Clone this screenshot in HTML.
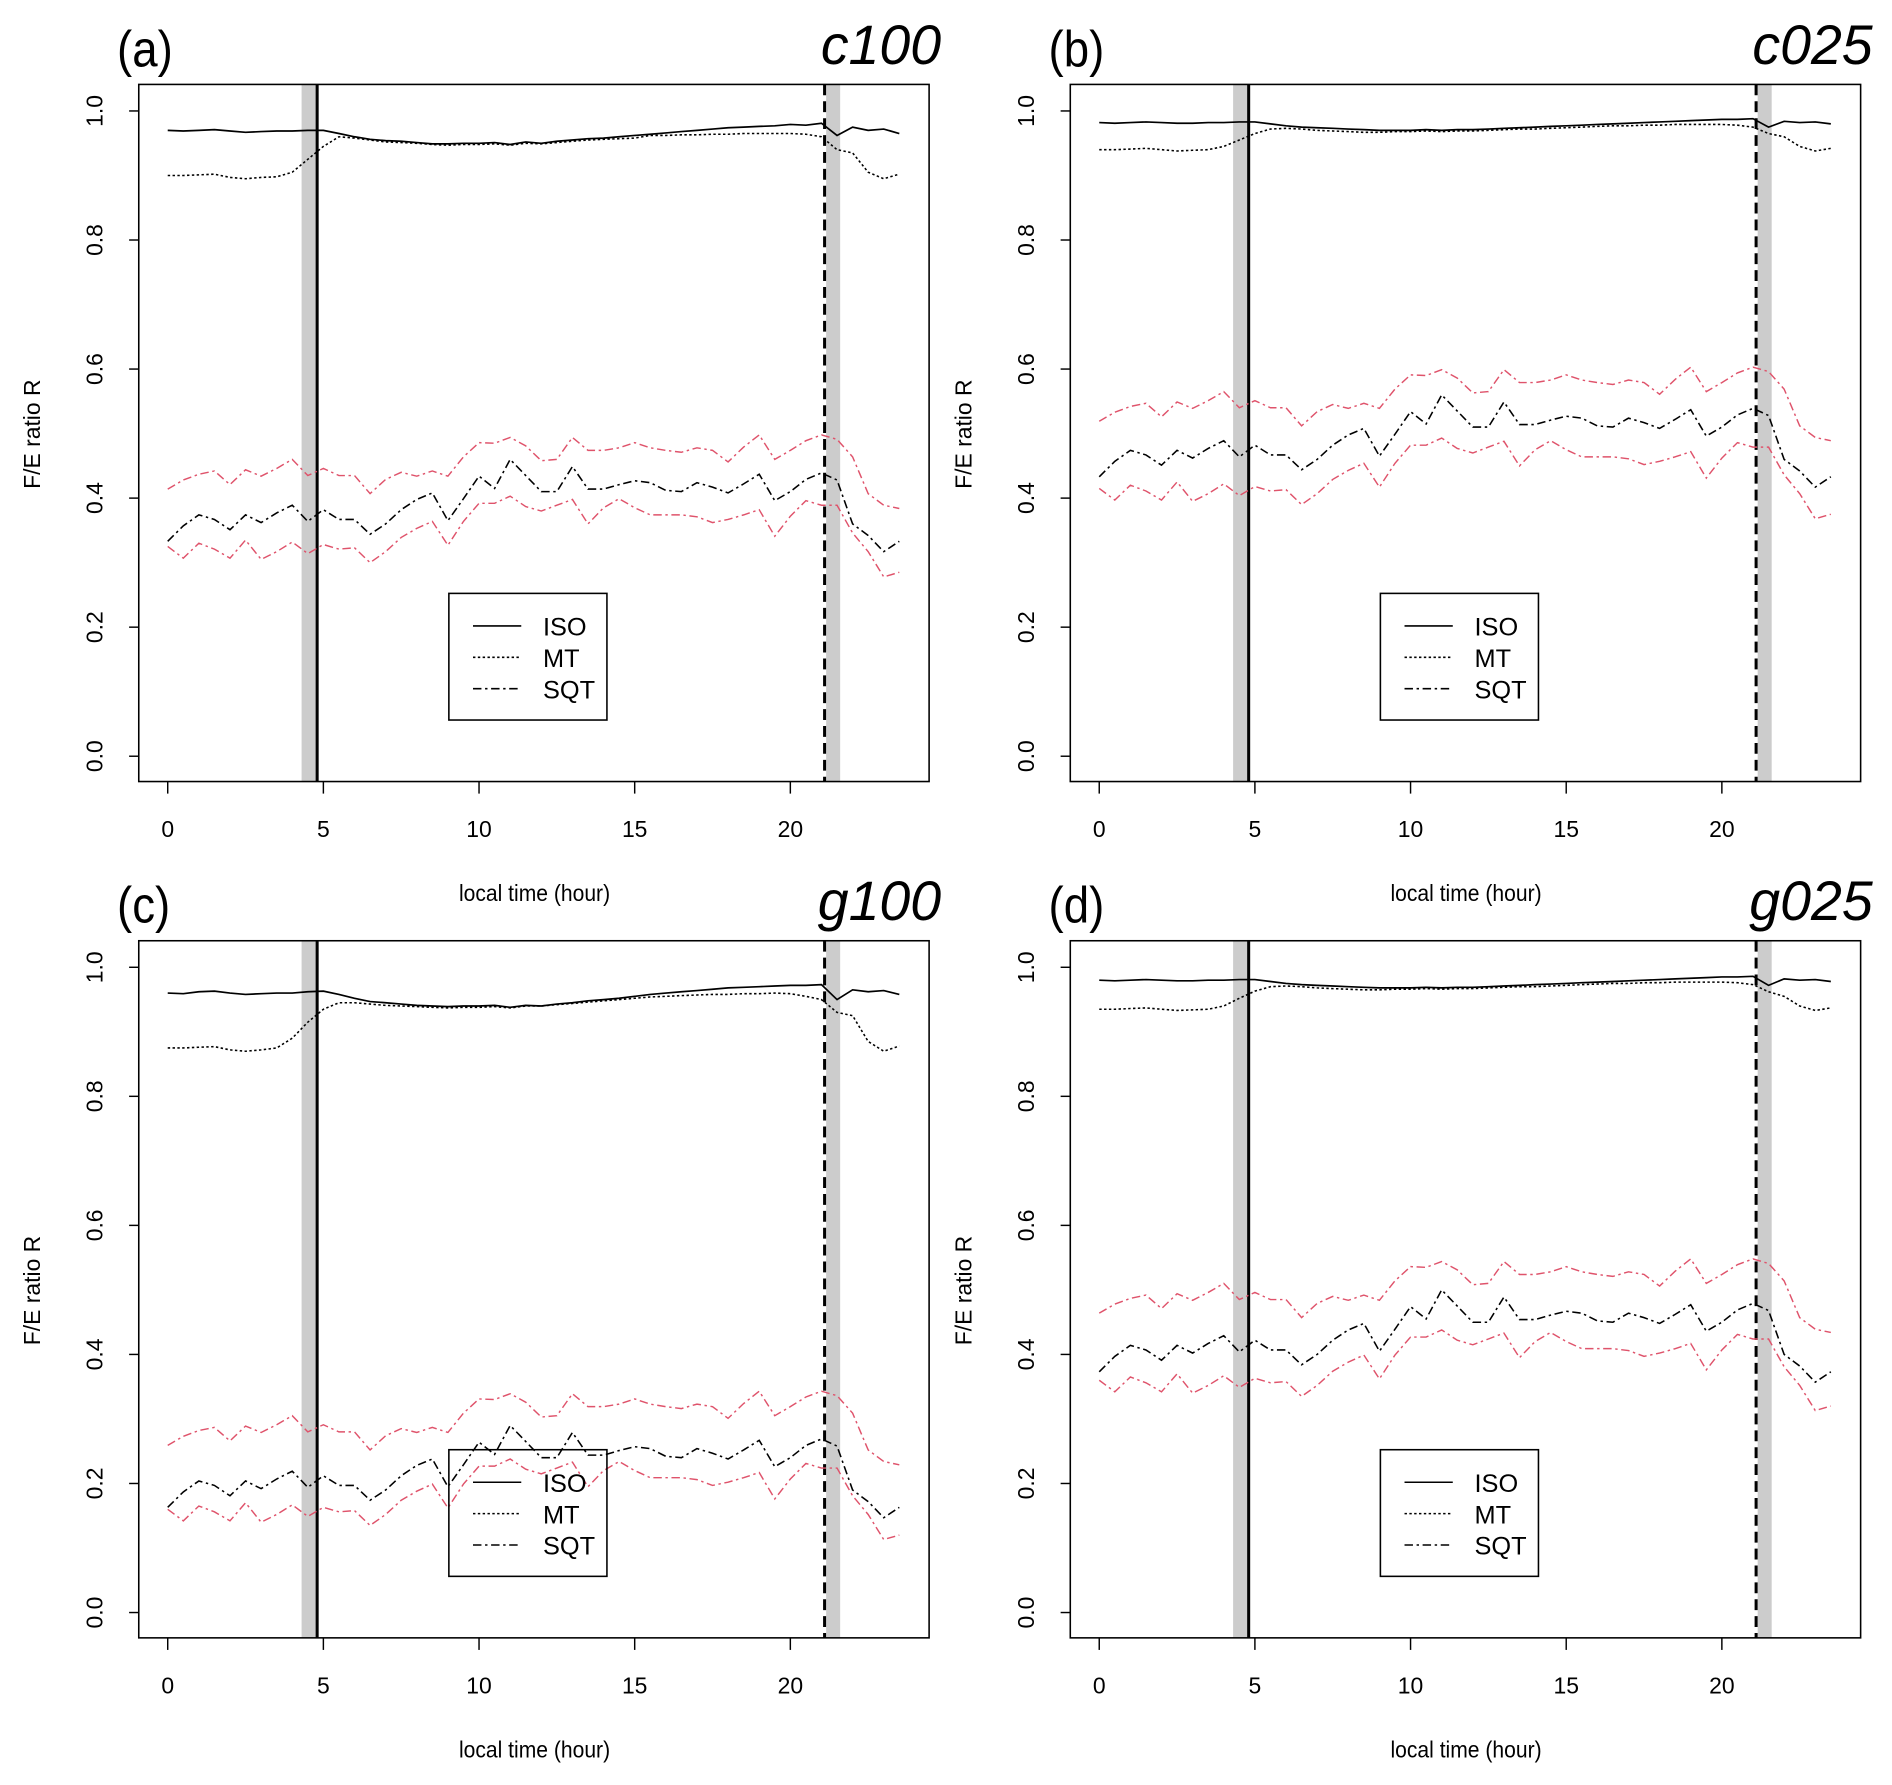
<!DOCTYPE html>
<html><head><meta charset="utf-8"><style>
html,body{margin:0;padding:0;background:#fff;}
svg{display:block;}
text{font-family:"Liberation Sans",Arial,sans-serif;fill:#000;}
</style></head><body>
<svg id="fig" width="1892" height="1785" viewBox="0 0 1568 1480" preserveAspectRatio="none" xmlns="http://www.w3.org/2000/svg"></svg>
<script>
const hours = [0,0.5,1,1.5,2,2.5,3,3.5,4,4.5,5,5.5,6,6.5,7,7.5,8,8.5,9,9.5,10,10.5,11,11.5,12,12.5,13,13.5,14,14.5,15,15.5,16,16.5,17,17.5,18,18.5,19,19.5,20,20.5,21,21.5,22,22.5,23,23.5];
const xTicks = [0,5,10,15,20];
const yTicks = [0,0.2,0.4,0.6,0.8,1.0];
const yTickLabels = ["0.0","0.2","0.4","0.6","0.8","1.0"];
const panelTags = ["(a)","(b)","(c)","(d)"];
const panelNames = ["c100","c025","g100","g025"];
const sunrise = 4.8, sunset = 21.1;

const isoA = [0.970,0.969,0.970,0.971,0.969,0.967,0.968,0.969,0.969,0.970,0.970,0.965,0.960,0.956,0.954,0.953,0.951,0.949,0.949,0.950,0.950,0.951,0.948,0.952,0.950,0.953,0.955,0.957,0.958,0.960,0.962,0.964,0.966,0.968,0.970,0.972,0.974,0.975,0.976,0.977,0.979,0.978,0.981,0.962,0.975,0.970,0.972,0.965];
const mtA = [0.900,0.900,0.901,0.902,0.897,0.895,0.897,0.898,0.905,0.925,0.945,0.960,0.958,0.955,0.952,0.951,0.950,0.948,0.947,0.948,0.948,0.949,0.947,0.950,0.949,0.951,0.953,0.955,0.956,0.957,0.958,0.962,0.962,0.963,0.963,0.964,0.964,0.965,0.965,0.965,0.965,0.964,0.960,0.940,0.935,0.905,0.895,0.902];
const sqtA = [0.333,0.357,0.374,0.367,0.351,0.374,0.362,0.377,0.389,0.364,0.382,0.367,0.367,0.344,0.360,0.382,0.398,0.408,0.365,0.399,0.434,0.415,0.460,0.435,0.410,0.410,0.449,0.414,0.414,0.421,0.427,0.424,0.412,0.410,0.424,0.417,0.408,0.422,0.437,0.396,0.410,0.429,0.439,0.428,0.360,0.342,0.317,0.333];
const upA = [0.414,0.428,0.437,0.442,0.421,0.444,0.434,0.446,0.460,0.435,0.446,0.435,0.435,0.407,0.429,0.440,0.434,0.442,0.434,0.464,0.486,0.485,0.494,0.481,0.458,0.460,0.494,0.474,0.474,0.478,0.486,0.478,0.474,0.471,0.478,0.474,0.456,0.479,0.498,0.460,0.474,0.489,0.498,0.491,0.464,0.407,0.389,0.384];
const loA = [0.325,0.307,0.330,0.321,0.307,0.335,0.305,0.317,0.332,0.314,0.328,0.321,0.323,0.300,0.317,0.339,0.353,0.364,0.327,0.364,0.392,0.392,0.403,0.387,0.380,0.389,0.398,0.360,0.385,0.399,0.385,0.374,0.374,0.374,0.371,0.362,0.367,0.374,0.382,0.341,0.372,0.396,0.389,0.389,0.346,0.317,0.278,0.285];

const isoB = [0.982,0.981,0.982,0.983,0.982,0.981,0.981,0.982,0.982,0.983,0.983,0.980,0.977,0.975,0.974,0.973,0.972,0.971,0.970,0.970,0.970,0.971,0.970,0.971,0.971,0.972,0.973,0.974,0.975,0.976,0.977,0.978,0.979,0.980,0.981,0.982,0.983,0.984,0.985,0.986,0.987,0.987,0.988,0.975,0.984,0.982,0.983,0.980];
const mtB = [0.940,0.940,0.941,0.942,0.940,0.938,0.939,0.940,0.945,0.955,0.965,0.972,0.973,0.972,0.970,0.969,0.968,0.967,0.967,0.968,0.968,0.969,0.968,0.969,0.969,0.970,0.971,0.972,0.972,0.973,0.974,0.975,0.976,0.977,0.977,0.978,0.978,0.979,0.979,0.979,0.979,0.978,0.975,0.965,0.960,0.945,0.938,0.942];
const sqtB = [0.433,0.457,0.474,0.467,0.451,0.474,0.462,0.477,0.489,0.464,0.482,0.467,0.467,0.444,0.460,0.482,0.498,0.508,0.465,0.499,0.534,0.515,0.560,0.535,0.510,0.510,0.549,0.514,0.514,0.521,0.527,0.524,0.512,0.510,0.524,0.517,0.508,0.522,0.537,0.496,0.510,0.529,0.539,0.528,0.460,0.442,0.417,0.433];
const upB = [0.519,0.533,0.542,0.547,0.526,0.549,0.539,0.551,0.565,0.540,0.551,0.540,0.540,0.512,0.534,0.545,0.539,0.547,0.539,0.569,0.591,0.590,0.599,0.586,0.563,0.565,0.599,0.579,0.579,0.583,0.591,0.583,0.579,0.576,0.583,0.579,0.561,0.584,0.603,0.565,0.579,0.594,0.603,0.596,0.569,0.512,0.494,0.489];
const loB = [0.415,0.397,0.420,0.411,0.397,0.425,0.395,0.407,0.422,0.404,0.418,0.411,0.413,0.390,0.407,0.429,0.443,0.454,0.417,0.454,0.482,0.482,0.493,0.477,0.470,0.479,0.488,0.450,0.475,0.489,0.475,0.464,0.464,0.464,0.461,0.452,0.457,0.464,0.472,0.431,0.462,0.486,0.479,0.479,0.436,0.407,0.368,0.375];

const isoC = [0.960,0.959,0.962,0.963,0.960,0.958,0.959,0.960,0.960,0.962,0.963,0.958,0.952,0.947,0.945,0.943,0.941,0.940,0.939,0.940,0.940,0.941,0.938,0.941,0.940,0.943,0.945,0.948,0.950,0.952,0.955,0.958,0.960,0.962,0.964,0.966,0.968,0.969,0.970,0.971,0.972,0.972,0.973,0.950,0.965,0.962,0.964,0.958];
const mtC = [0.875,0.875,0.876,0.877,0.872,0.870,0.872,0.875,0.890,0.915,0.935,0.945,0.945,0.943,0.941,0.940,0.939,0.938,0.937,0.938,0.938,0.939,0.937,0.940,0.940,0.942,0.944,0.946,0.948,0.950,0.952,0.954,0.955,0.956,0.957,0.958,0.958,0.959,0.959,0.960,0.959,0.955,0.950,0.930,0.925,0.885,0.870,0.878];
const sqtC = [0.163,0.187,0.204,0.197,0.181,0.204,0.192,0.207,0.219,0.194,0.212,0.197,0.197,0.174,0.190,0.212,0.228,0.238,0.195,0.229,0.264,0.245,0.290,0.265,0.240,0.240,0.279,0.244,0.244,0.251,0.257,0.254,0.242,0.240,0.254,0.247,0.238,0.252,0.267,0.226,0.240,0.259,0.269,0.258,0.190,0.172,0.147,0.163];
const upC = [0.259,0.273,0.282,0.287,0.266,0.289,0.279,0.291,0.305,0.280,0.291,0.280,0.280,0.252,0.274,0.285,0.279,0.287,0.279,0.309,0.331,0.330,0.339,0.326,0.303,0.305,0.339,0.319,0.319,0.323,0.331,0.323,0.319,0.316,0.323,0.319,0.301,0.324,0.343,0.305,0.319,0.334,0.343,0.336,0.309,0.252,0.234,0.229];
const loC = [0.160,0.142,0.165,0.156,0.142,0.170,0.140,0.152,0.167,0.149,0.163,0.156,0.158,0.135,0.152,0.174,0.188,0.199,0.162,0.199,0.227,0.227,0.238,0.222,0.215,0.224,0.233,0.195,0.220,0.234,0.220,0.209,0.209,0.209,0.206,0.197,0.202,0.209,0.217,0.176,0.207,0.231,0.224,0.224,0.181,0.152,0.113,0.120];

const isoD = [0.980,0.979,0.980,0.981,0.980,0.979,0.979,0.980,0.980,0.981,0.981,0.978,0.975,0.973,0.972,0.971,0.970,0.969,0.968,0.968,0.968,0.969,0.968,0.969,0.969,0.970,0.971,0.972,0.973,0.974,0.975,0.976,0.977,0.978,0.979,0.980,0.981,0.982,0.983,0.984,0.985,0.985,0.986,0.972,0.982,0.980,0.981,0.978];
const mtD = [0.935,0.935,0.936,0.937,0.935,0.933,0.934,0.935,0.940,0.952,0.963,0.970,0.971,0.970,0.968,0.967,0.966,0.965,0.965,0.966,0.966,0.967,0.966,0.967,0.967,0.968,0.969,0.970,0.970,0.971,0.972,0.973,0.974,0.975,0.975,0.976,0.976,0.977,0.977,0.977,0.977,0.976,0.973,0.962,0.955,0.940,0.933,0.937];
const sqtD = [0.373,0.397,0.414,0.407,0.391,0.414,0.402,0.417,0.429,0.404,0.422,0.407,0.407,0.384,0.400,0.422,0.438,0.448,0.405,0.439,0.474,0.455,0.500,0.475,0.450,0.450,0.489,0.454,0.454,0.461,0.467,0.464,0.452,0.450,0.464,0.457,0.448,0.462,0.477,0.436,0.450,0.469,0.479,0.468,0.400,0.382,0.357,0.373];
const upD = [0.464,0.478,0.487,0.492,0.471,0.494,0.484,0.496,0.510,0.485,0.496,0.485,0.485,0.457,0.479,0.490,0.484,0.492,0.484,0.514,0.536,0.535,0.544,0.531,0.508,0.510,0.544,0.524,0.524,0.528,0.536,0.528,0.524,0.521,0.528,0.524,0.506,0.529,0.548,0.510,0.524,0.539,0.548,0.541,0.514,0.457,0.439,0.434];
const loD = [0.360,0.342,0.365,0.356,0.342,0.370,0.340,0.352,0.367,0.349,0.363,0.356,0.358,0.335,0.352,0.374,0.388,0.399,0.362,0.399,0.427,0.427,0.438,0.422,0.415,0.424,0.433,0.395,0.420,0.434,0.420,0.409,0.409,0.409,0.406,0.397,0.402,0.409,0.417,0.376,0.407,0.431,0.424,0.424,0.381,0.352,0.313,0.320];

const NS = "http://www.w3.org/2000/svg";
const svg = document.getElementById('fig');
function mk(tag, attrs, parent, txt){
  const e = document.createElementNS(NS, tag);
  for (const k in attrs) e.setAttribute(k, attrs[k]);
  if (txt !== undefined) e.textContent = txt;
  (parent||svg).appendChild(e);
  return e;
}
const panels = [
  {ox:0, oy:0, iso:isoA, mt:mtA, sqt:sqtA, up:upA, lo:loA},
  {ox:772, oy:0, iso:isoB, mt:mtB, sqt:sqtB, up:upB, lo:loB},
  {ox:0, oy:710, iso:isoC, mt:mtC, sqt:sqtC, up:upC, lo:loC},
  {ox:772, oy:710, iso:isoD, mt:mtD, sqt:sqtD, up:upD, lo:loD}
];
panels.forEach((p, pi) => {
  const g = mk('g', {transform:`translate(${p.ox},${p.oy})`});
  
  
  const L=115, R=770, T=70, B=648;
  const xs = h => 139 + h*25.8;
  const ys = v => 627 - v*535;
  // bands
  const b1 = mk('rect', {x:xs(4.3), y:T, width:xs(4.8)-xs(4.3), height:B-T, fill:'#cccccc'}, g);
  
  
  const b2 = mk('rect', {x:xs(21.15), y:T, width:xs(21.6)-xs(21.15), height:B-T, fill:'#cccccc'}, g);
  
  
  const v1 = mk('line', {x1:xs(sunrise), x2:xs(sunrise), y1:T, y2:B, stroke:'#000', 'stroke-width':2.5}, g);
  
  
  const v2 = mk('line', {x1:xs(sunset), x2:xs(sunset), y1:T, y2:B, stroke:'#000', 'stroke-width':2.5, 'stroke-dasharray':'9,5'}, g);
  
  
  // frame
  const fr = mk('rect', {x:L, y:T, width:R-L, height:B-T, fill:'none', stroke:'#000', 'stroke-width':1.3}, g);
  
  
  // y ticks
  yTicks.forEach((v, i) => {
    const t = mk('line', {x1:L-8, x2:L, y1:ys(v), y2:ys(v), stroke:'#000', 'stroke-width':1.2}, g);
    
    
    const tl = mk('text', {x:0, y:0, 'font-size':19, 'text-anchor':'middle', transform:`translate(85,${ys(v)}) rotate(-90)`}, g, yTickLabels[i]);
    
    
  });
  xTicks.forEach(h => {
    const t = mk('line', {x1:xs(h), x2:xs(h), y1:B, y2:B+10, stroke:'#000', 'stroke-width':1.2}, g);
    
    
    const tl = mk('text', {x:xs(h), y:694, 'font-size':19, 'text-anchor':'middle'}, g, String(h));
    
    
  });
  const xl = mk('text', {x:443, y:747, 'font-size':19, 'text-anchor':'middle', transform:'translate(443,0) scale(0.92,1) translate(-443,0)'}, g, 'local time (hour)');
  
  
  const yl = mk('text', {x:0, y:0, 'font-size':19, 'text-anchor':'middle', transform:'translate(33,360) rotate(-90)'}, g, 'F/E ratio R');
  
  
  const tg = mk('text', {x:97, y:55, 'font-size':42, transform:'translate(97,0) scale(0.9,1) translate(-97,0)'}, g, panelTags[pi]);
  
  
  const nm = mk('text', {x:780, y:53, 'font-size':46, 'font-style':'italic', 'text-anchor':'end'}, g, panelNames[pi]);
  
  
  // series
  const pts = arr => arr.map((v,i)=>`${xs(hours[i]).toFixed(1)},${ys(v).toFixed(1)}`).join(' ');
  const series = [
    {d:p.up, c:'#DF536B', dash:'7,3,2,3', w:1.2, n:'sqt-upper-bound'},
    {d:p.lo, c:'#DF536B', dash:'7,3,2,3', w:1.2, n:'sqt-lower-bound'},
    {d:p.sqt, c:'#000', dash:'7,3,2,3', w:1.3, n:'sqt-line'},
    {d:p.mt, c:'#000', dash:'2,2', w:1.3, n:'mt-line'},
    {d:p.iso, c:'#000', dash:'none', w:1.4, n:'iso-line'}
  ];
  series.forEach(s => {
    const pl = mk('polyline', {points:pts(s.d), fill:'none', stroke:s.c, 'stroke-width':s.w, 'stroke-dasharray':s.dash}, g);
    
    
  });
  // legend
  const ly = pi < 2 ? 0 : 0;
  const lg = mk('g', {}, g);
  
  
  mk('rect', {x:372, y:492+ly, width:131, height:105, fill: pi===2 ? 'none' : '#fff', stroke:'#000', 'stroke-width':1.3}, lg);
  [['ISO','none'],['MT','2,2'],['SQT','7,3,2,3']].forEach((e, i) => {
    const yy = 519 + ly + i*26;
    const le = mk('g', {}, lg);
    
    
    mk('line', {x1:392, x2:432, y1:yy, y2:yy, stroke:'#000', 'stroke-width':1.3, 'stroke-dasharray':e[1]}, le);
    mk('text', {x:450, y:yy+8, 'font-size':21}, le, e[0]);
  });
});
</script>
</body></html>
